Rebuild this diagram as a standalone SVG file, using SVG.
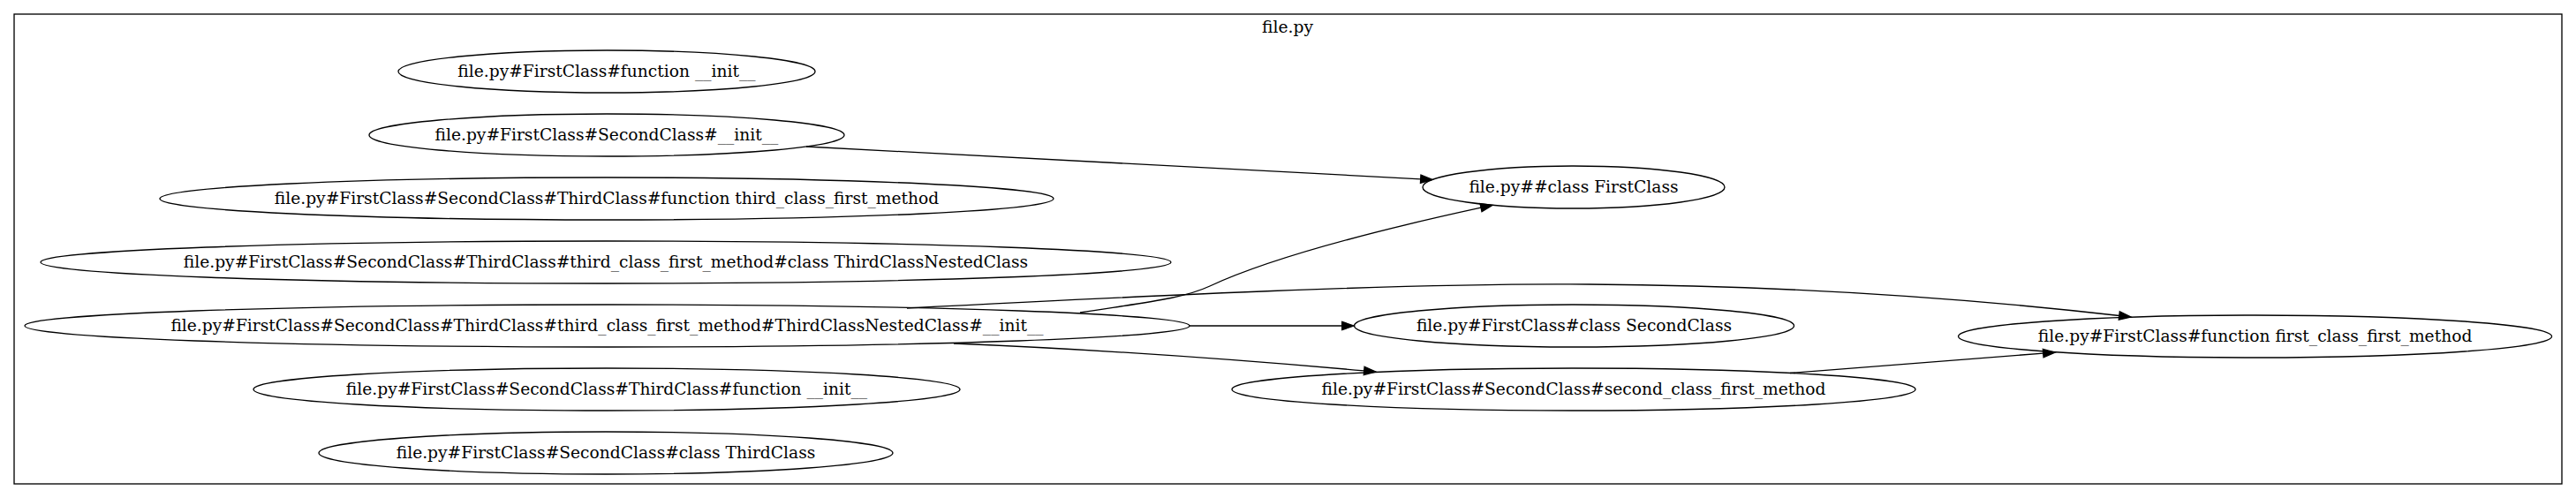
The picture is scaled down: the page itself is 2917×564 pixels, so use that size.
<svg xmlns="http://www.w3.org/2000/svg" width="2917" height="564" viewBox="0 0 2917 564">
<style>
.node ellipse{fill:none;stroke:#000;stroke-width:1.33}
text{font-family:"DejaVu Serif","Liberation Serif",serif;font-size:18.67px;fill:#000;text-anchor:middle}
.edge path{fill:none;stroke:#000;stroke-width:1.33}
.cluster rect{fill:none;stroke:#000;stroke-width:1.33}
</style>
<defs>
<marker id="arr" markerUnits="userSpaceOnUse" markerWidth="15" markerHeight="12" viewBox="0 -6 15 12" refX="0" refY="0" orient="auto" overflow="visible">
<path d="M0,-4.67 L13.33,0 L0,4.67 Z" fill="#000" stroke="#000" stroke-width="1.33"/>
</marker>
</defs>
<rect x="0" y="0" width="2917" height="564" fill="#fff"/>
<g id="cluster_file" class="cluster">
<rect x="16" y="16" width="2885" height="532"/>
<text x="1458" y="36.5">file.py</text>
</g>
<g id="edges" class="edge">
<path d="M913,166 L1608.7,202.8" marker-end="url(#arr)"/>
<path d="M1223,354 C1300,342 1340,338 1370,324 C1430,296 1540,265 1677,235.2" marker-end="url(#arr)"/>
<path d="M1027,349 C1300,335 1600,320 1800,322 C1950,323 2150,329 2399.8,357.5" marker-end="url(#arr)"/>
<path d="M1347,369 L1519.7,369" marker-end="url(#arr)"/>
<path d="M1080,389 C1250,396 1400,407 1544.7,419.9" marker-end="url(#arr)"/>
<path d="M2027,422.5 L2313.7,400.1" marker-end="url(#arr)"/>
</g>
<g id="n1" class="node"><ellipse cx="687" cy="81" rx="236" ry="24"/><text x="687" y="87">file.py#FirstClass#function __init__</text></g>
<g id="n2" class="node"><ellipse cx="687" cy="153" rx="269" ry="24"/><text x="687" y="159">file.py#FirstClass#SecondClass#__init__</text></g>
<g id="n3" class="node"><ellipse cx="687" cy="225" rx="506" ry="24"/><text x="687" y="231">file.py#FirstClass#SecondClass#ThirdClass#function third_class_first_method</text></g>
<g id="n4" class="node"><ellipse cx="686" cy="297" rx="640" ry="24"/><text x="686" y="303">file.py#FirstClass#SecondClass#ThirdClass#third_class_first_method#class ThirdClassNestedClass</text></g>
<g id="n5" class="node"><ellipse cx="687.5" cy="369" rx="659.5" ry="24"/><text x="687.5" y="375">file.py#FirstClass#SecondClass#ThirdClass#third_class_first_method#ThirdClassNestedClass#__init__</text></g>
<g id="n6" class="node"><ellipse cx="687" cy="441" rx="400" ry="24"/><text x="687" y="447">file.py#FirstClass#SecondClass#ThirdClass#function __init__</text></g>
<g id="n7" class="node"><ellipse cx="686" cy="513" rx="325" ry="24"/><text x="686" y="519">file.py#FirstClass#SecondClass#class ThirdClass</text></g>
<g id="c1" class="node"><ellipse cx="1782" cy="212" rx="171" ry="24"/><text x="1782" y="218">file.py##class FirstClass</text></g>
<g id="c2" class="node"><ellipse cx="1782.5" cy="369" rx="249" ry="24"/><text x="1782.5" y="375">file.py#FirstClass#class SecondClass</text></g>
<g id="c3" class="node"><ellipse cx="1782" cy="441" rx="387" ry="24"/><text x="1782" y="447">file.py#FirstClass#SecondClass#second_class_first_method</text></g>
<g id="f1" class="node"><ellipse cx="2553.6" cy="381" rx="336" ry="24"/><text x="2553.6" y="387">file.py#FirstClass#function first_class_first_method</text></g>
</svg>
